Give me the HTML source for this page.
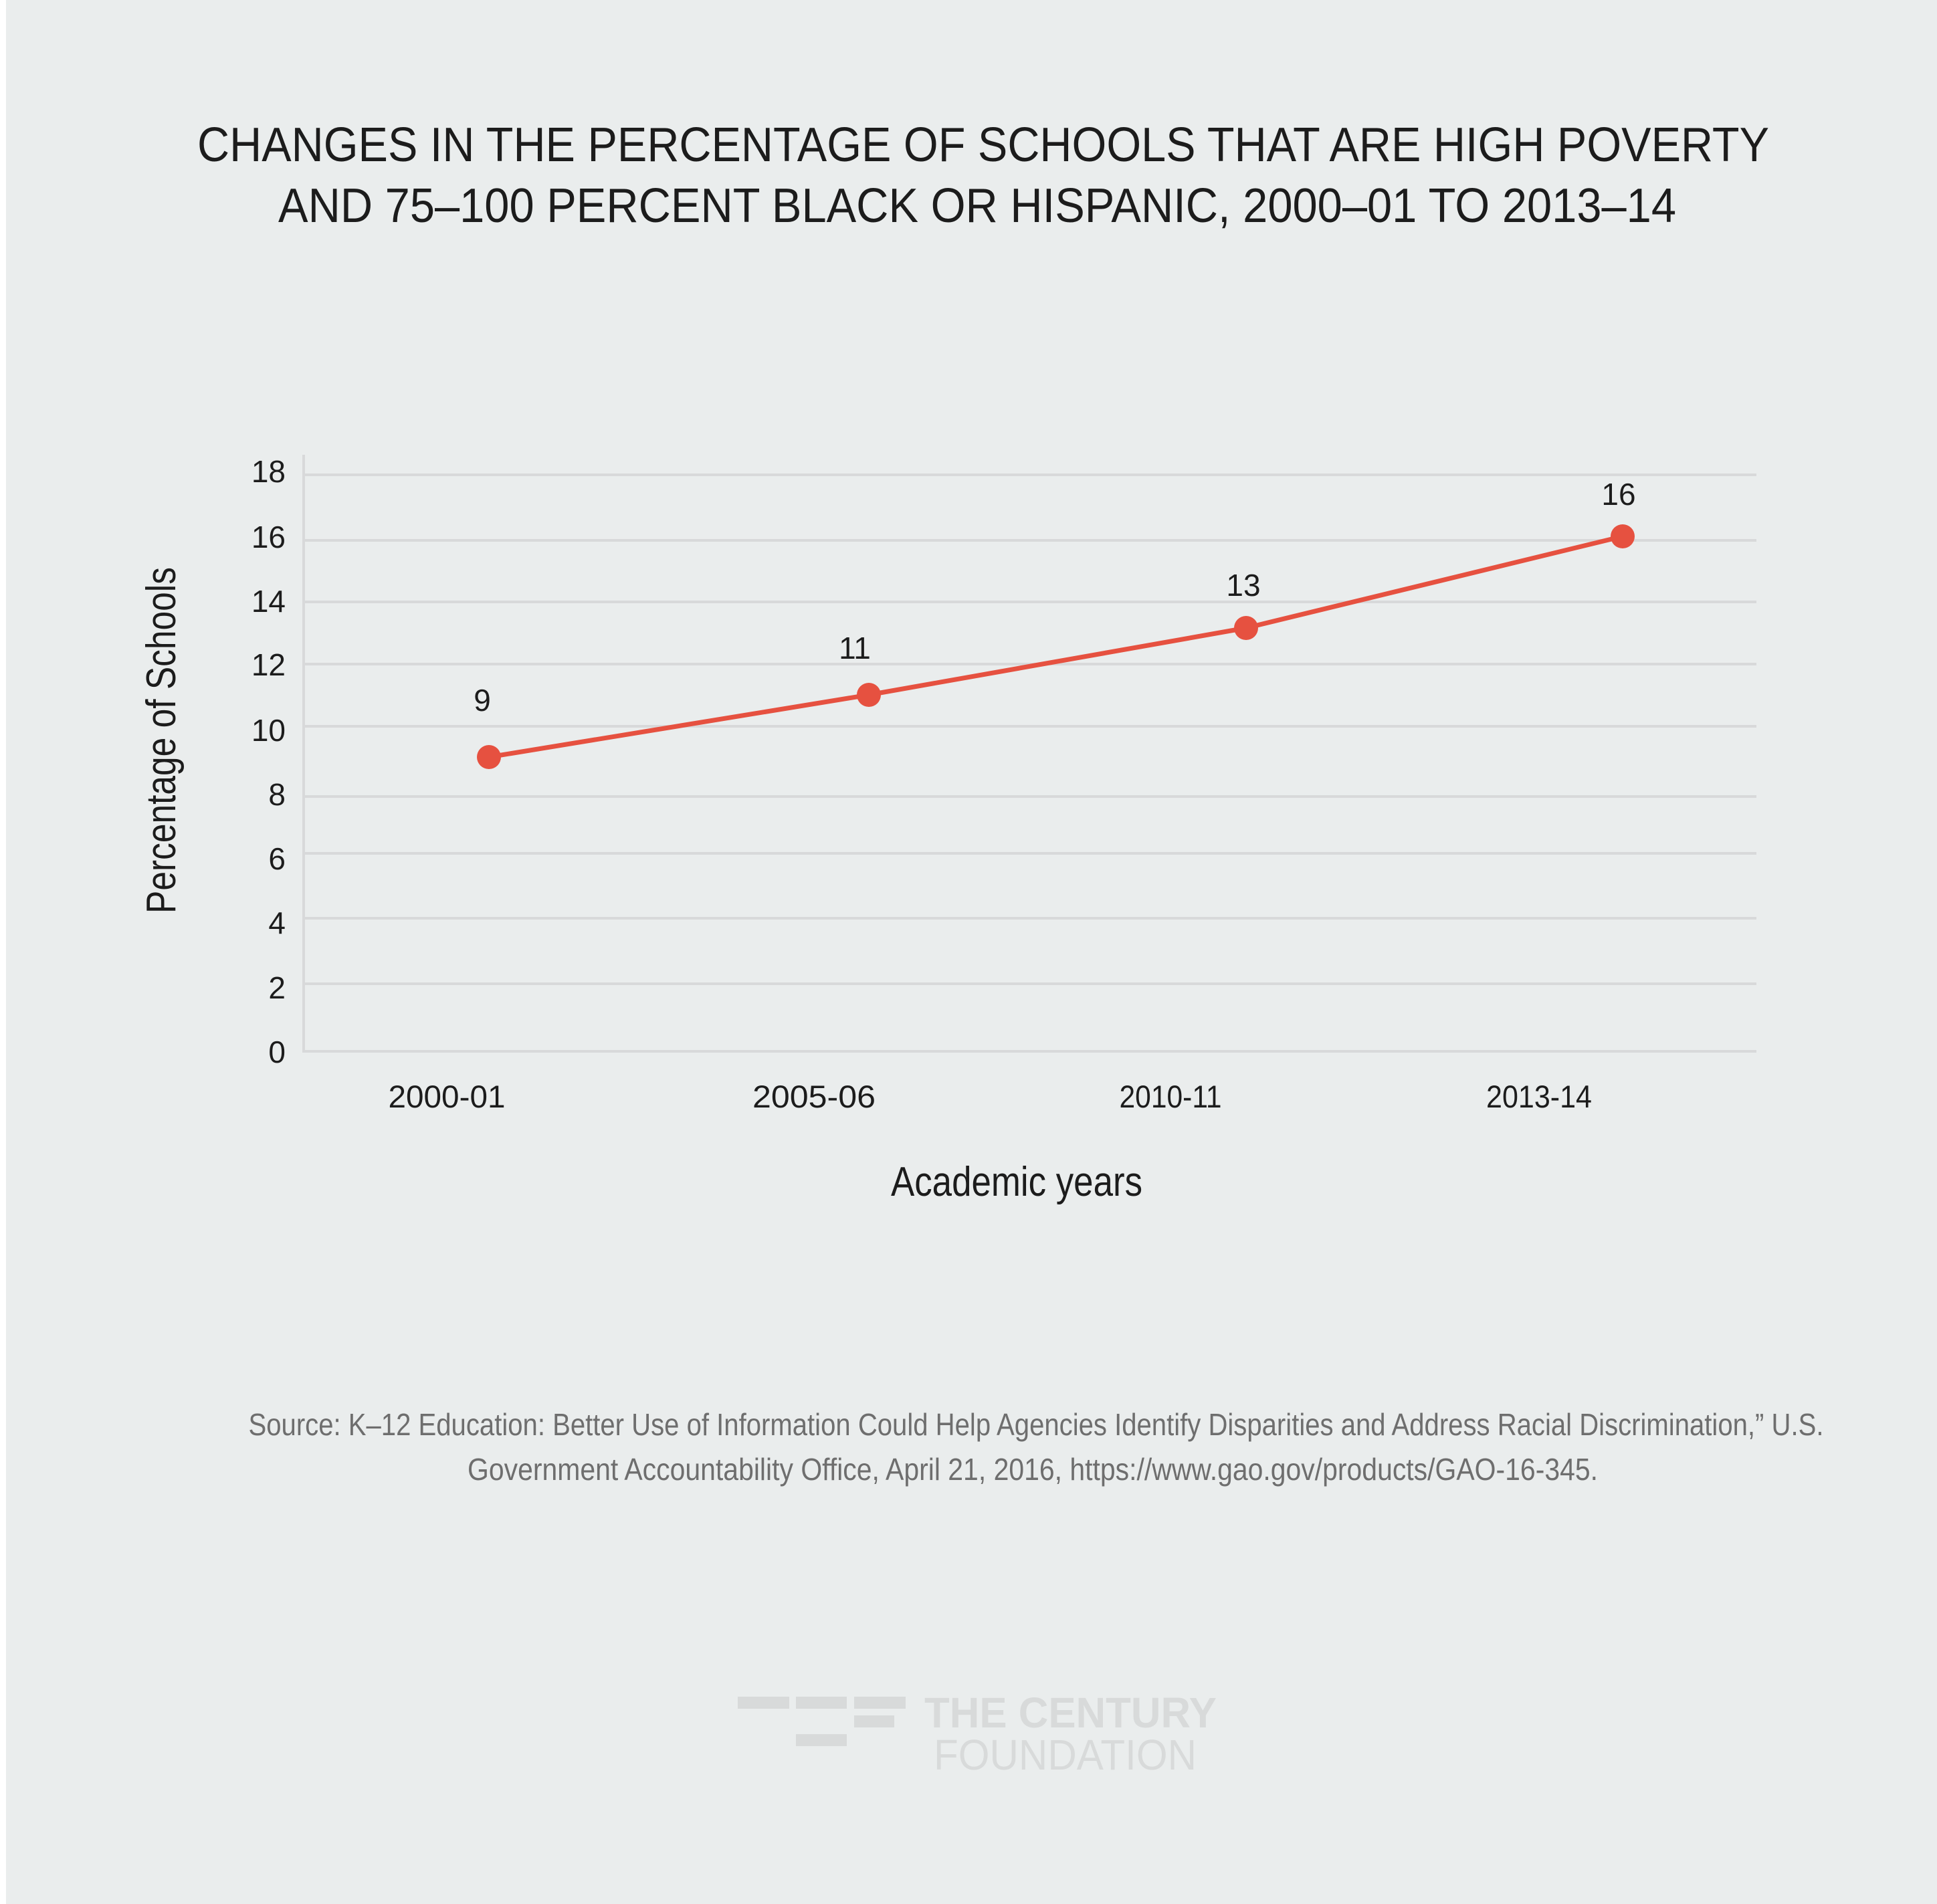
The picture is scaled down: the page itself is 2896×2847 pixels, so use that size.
<!DOCTYPE html>
<html>
<head>
<meta charset="utf-8">
<style>
  html, body { margin: 0; padding: 0; }
  body { width: 2896px; height: 2847px; background: #ffffff; overflow: hidden; }
  svg { display: block; }
  text { font-family: "Liberation Sans", "DejaVu Sans", sans-serif; }
</style>
</head>
<body>
<svg width="2896" height="2847" viewBox="0 0 2896 2847" xmlns="http://www.w3.org/2000/svg">
  <rect x="9" y="0" width="2887" height="2847" fill="#eaeded"/>

  <!-- Title -->
  <text x="1470" y="241" font-size="72" fill="#1c1c1c" text-anchor="middle" textLength="2350" lengthAdjust="spacingAndGlyphs">CHANGES IN THE PERCENTAGE OF SCHOOLS THAT ARE HIGH POVERTY</text>
  <text x="1461" y="332" font-size="72" fill="#1c1c1c" text-anchor="middle" textLength="2090" lengthAdjust="spacingAndGlyphs">AND 75–100 PERCENT BLACK OR HISPANIC, 2000–01 TO 2013–14</text>

  <!-- Gridlines -->
  <g stroke="#d8d9da" stroke-width="4">
    <line x1="452" y1="710" x2="2626" y2="710"/>
    <line x1="452" y1="808" x2="2626" y2="808"/>
    <line x1="452" y1="900" x2="2626" y2="900"/>
    <line x1="452" y1="993" x2="2626" y2="993"/>
    <line x1="452" y1="1086" x2="2626" y2="1086"/>
    <line x1="452" y1="1191" x2="2626" y2="1191"/>
    <line x1="452" y1="1276" x2="2626" y2="1276"/>
    <line x1="452" y1="1373" x2="2626" y2="1373"/>
    <line x1="452" y1="1471" x2="2626" y2="1471"/>
    <line x1="452" y1="1572" x2="2626" y2="1572"/>
    <line x1="454" y1="680" x2="454" y2="1574"/>
  </g>

  <!-- Y tick labels -->
  <g font-size="46" fill="#1c1c1c" text-anchor="end">
    <text x="427" y="721">18</text>
    <text x="427" y="819">16</text>
    <text x="427" y="915">14</text>
    <text x="427" y="1010">12</text>
    <text x="427" y="1108">10</text>
    <text x="427" y="1204">8</text>
    <text x="427" y="1300">6</text>
    <text x="427" y="1396">4</text>
    <text x="427" y="1493">2</text>
    <text x="427" y="1589">0</text>
  </g>

  <!-- Y axis title -->
  <text transform="translate(262,1107) rotate(-90)" font-size="62" fill="#1c1c1c" text-anchor="middle" textLength="518" lengthAdjust="spacingAndGlyphs">Percentage of Schools</text>

  <!-- X tick labels -->
  <g font-size="47" fill="#1c1c1c" text-anchor="middle">
    <text x="668" y="1656" textLength="175" lengthAdjust="spacingAndGlyphs">2000-01</text>
    <text x="1217" y="1656" textLength="184" lengthAdjust="spacingAndGlyphs">2005-06</text>
    <text x="1750" y="1656" textLength="153" lengthAdjust="spacingAndGlyphs">2010-11</text>
    <text x="2301" y="1656" textLength="158" lengthAdjust="spacingAndGlyphs">2013-14</text>
  </g>

  <!-- X axis title -->
  <text x="1520" y="1788" font-size="62" fill="#1c1c1c" text-anchor="middle" textLength="376" lengthAdjust="spacingAndGlyphs">Academic years</text>

  <!-- Series -->
  <polyline points="731,1132 1299,1039 1863,939 2426,802" fill="none" stroke="#e65140" stroke-width="7" stroke-linejoin="round"/>
  <g fill="#e65140">
    <circle cx="731" cy="1132" r="18"/>
    <circle cx="1299" cy="1039" r="18"/>
    <circle cx="1863" cy="939" r="18"/>
    <circle cx="2426" cy="802" r="18"/>
  </g>

  <!-- Data labels -->
  <g font-size="46" fill="#1c1c1c" text-anchor="middle">
    <text x="721" y="1063">9</text>
    <text x="1278" y="985">11</text>
    <text x="1859" y="891">13</text>
    <text x="2420" y="755">16</text>
  </g>

  <!-- Source -->
  <g font-size="46" fill="#6e6e6e" text-anchor="middle">
    <text x="1549" y="2146" textLength="2355" lengthAdjust="spacingAndGlyphs">Source:  K–12 Education: Better Use of Information Could Help Agencies Identify Disparities and Address Racial Discrimination,” U.S.</text>
    <text x="1544" y="2213" textLength="1690" lengthAdjust="spacingAndGlyphs">Government Accountability Office, April 21, 2016, https://www.gao.gov/products/GAO-16-345.</text>
  </g>

  <!-- Logo -->
  <g fill="#d8dada">
    <rect x="1103" y="2537" width="77" height="18"/>
    <rect x="1190" y="2537" width="76" height="18"/>
    <rect x="1277" y="2537" width="77" height="18"/>
    <rect x="1277" y="2565" width="60" height="18"/>
    <rect x="1190" y="2593" width="76" height="18"/>
  </g>
  <text x="1382" y="2583" font-size="64" font-weight="bold" fill="#d8dada" textLength="437" lengthAdjust="spacingAndGlyphs">THE CENTURY</text>
  <text x="1396" y="2646" font-size="64" fill="#d8dada" textLength="393" lengthAdjust="spacingAndGlyphs">FOUNDATION</text>
</svg>
</body>
</html>
